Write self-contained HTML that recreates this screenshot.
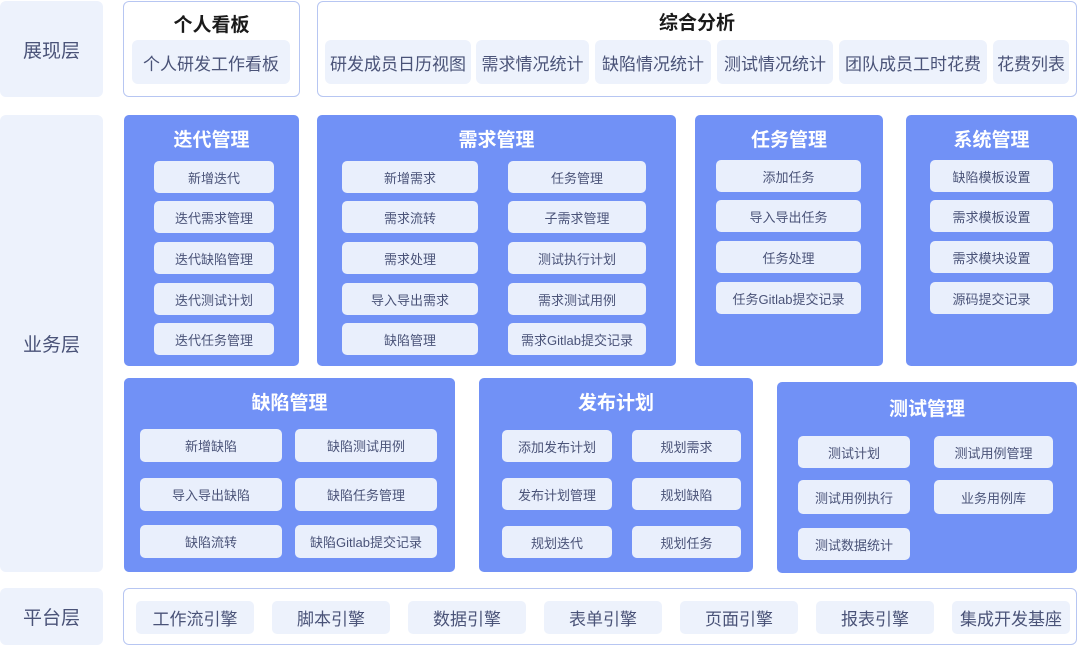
<!DOCTYPE html><html><head><meta charset="utf-8"><style>
body{margin:0;width:1080px;height:647px;background:#fff;position:relative;overflow:hidden;font-family:"Liberation Sans","Noto Sans CJK SC",sans-serif}
div{position:absolute;box-sizing:border-box}
.lab{left:0;width:103px;background:#edf2fc;border-radius:6px;color:#4a5378;font-size:19px;display:flex;align-items:center;justify-content:center}
.ob{border:1.5px solid #b7c6f2;border-radius:6px;background:#fff}
.tt{font-weight:bold;font-size:19px;color:#1a1a1a;text-align:center;left:0;right:0}
.ti{background:#edf2fc;border-radius:6px;color:#4a5378;font-size:17px;display:flex;align-items:center;justify-content:center;height:44px;top:40px}
.p{background:#7191f6;border-radius:5px}
.pt{font-weight:bold;font-size:19px;color:#fff;text-align:center;left:0;right:0}
.i{background:#e9effc;border-radius:5px;color:#4a5378;font-size:13px;display:flex;align-items:center;justify-content:center;height:32px}
.pi{background:#edf2fc;border-radius:5px;color:#4a5378;font-size:17px;display:flex;align-items:center;justify-content:center;height:33px;top:601px;width:118px}
</style></head><body>
<div class="lab" style="top:1px;height:96px">展现层</div>
<div class="lab" style="top:115px;height:457px">业务层</div>
<div class="lab" style="top:588px;height:57px">平台层</div>

<div class="ob" style="left:123px;top:1px;width:177px;height:96px"><div class="tt" style="top:8px">个人看板</div></div>
<div class="ti" style="left:132px;width:158px">个人研发工作看板</div>
<div class="ob" style="left:317px;top:1px;width:760px;height:96px"><div class="tt" style="top:6px">综合分析</div></div>
<div class="ti" style="left:325px;width:146px">研发成员日历视图</div>
<div class="ti" style="left:476px;width:113px">需求情况统计</div>
<div class="ti" style="left:595px;width:116px">缺陷情况统计</div>
<div class="ti" style="left:717px;width:116px">测试情况统计</div>
<div class="ti" style="left:839px;width:148px">团队成员工时花费</div>
<div class="ti" style="left:993px;width:76px">花费列表</div>

<div class="p" style="left:124px;top:115px;width:175px;height:251px"><div class="pt" style="top:10px">迭代管理</div></div>
<div class="i" style="left:154px;top:161px;width:120px">新增迭代</div>
<div class="i" style="left:154px;top:201px;width:120px">迭代需求管理</div>
<div class="i" style="left:154px;top:242px;width:120px">迭代缺陷管理</div>
<div class="i" style="left:154px;top:283px;width:120px">迭代测试计划</div>
<div class="i" style="left:154px;top:323px;width:120px">迭代任务管理</div>

<div class="p" style="left:317px;top:115px;width:359px;height:251px"><div class="pt" style="top:10px">需求管理</div></div>
<div class="i" style="left:342px;top:161px;width:136px">新增需求</div>
<div class="i" style="left:342px;top:201px;width:136px">需求流转</div>
<div class="i" style="left:342px;top:242px;width:136px">需求处理</div>
<div class="i" style="left:342px;top:283px;width:136px">导入导出需求</div>
<div class="i" style="left:342px;top:323px;width:136px">缺陷管理</div>
<div class="i" style="left:508px;top:161px;width:138px">任务管理</div>
<div class="i" style="left:508px;top:201px;width:138px">子需求管理</div>
<div class="i" style="left:508px;top:242px;width:138px">测试执行计划</div>
<div class="i" style="left:508px;top:283px;width:138px">需求测试用例</div>
<div class="i" style="left:508px;top:323px;width:138px">需求Gitlab提交记录</div>

<div class="p" style="left:695px;top:115px;width:188px;height:251px"><div class="pt" style="top:10px">任务管理</div></div>
<div class="i" style="left:716px;top:160px;width:145px">添加任务</div>
<div class="i" style="left:716px;top:200px;width:145px">导入导出任务</div>
<div class="i" style="left:716px;top:241px;width:145px">任务处理</div>
<div class="i" style="left:716px;top:282px;width:145px">任务Gitlab提交记录</div>

<div class="p" style="left:906px;top:115px;width:171px;height:251px"><div class="pt" style="top:10px">系统管理</div></div>
<div class="i" style="left:930px;top:160px;width:123px">缺陷模板设置</div>
<div class="i" style="left:930px;top:200px;width:123px">需求模板设置</div>
<div class="i" style="left:930px;top:241px;width:123px">需求模块设置</div>
<div class="i" style="left:930px;top:282px;width:123px">源码提交记录</div>

<div class="p" style="left:124px;top:378px;width:331px;height:194px"><div class="pt" style="top:10px">缺陷管理</div></div>
<div class="i" style="left:140px;top:429px;width:142px;height:33px">新增缺陷</div>
<div class="i" style="left:140px;top:478px;width:142px;height:33px">导入导出缺陷</div>
<div class="i" style="left:140px;top:525px;width:142px;height:33px">缺陷流转</div>
<div class="i" style="left:295px;top:429px;width:142px;height:33px">缺陷测试用例</div>
<div class="i" style="left:295px;top:478px;width:142px;height:33px">缺陷任务管理</div>
<div class="i" style="left:295px;top:525px;width:142px;height:33px">缺陷Gitlab提交记录</div>

<div class="p" style="left:479px;top:378px;width:274px;height:194px"><div class="pt" style="top:10px">发布计划</div></div>
<div class="i" style="left:502px;top:430px;width:110px">添加发布计划</div>
<div class="i" style="left:502px;top:478px;width:110px">发布计划管理</div>
<div class="i" style="left:502px;top:526px;width:110px">规划迭代</div>
<div class="i" style="left:632px;top:430px;width:109px">规划需求</div>
<div class="i" style="left:632px;top:478px;width:109px">规划缺陷</div>
<div class="i" style="left:632px;top:526px;width:109px">规划任务</div>

<div class="p" style="left:777px;top:382px;width:300px;height:191px"><div class="pt" style="top:12px">测试管理</div></div>
<div class="i" style="left:798px;top:436px;width:112px">测试计划</div>
<div class="i" style="left:798px;top:480px;width:112px;height:34px">测试用例执行</div>
<div class="i" style="left:798px;top:528px;width:112px">测试数据统计</div>
<div class="i" style="left:934px;top:436px;width:119px">测试用例管理</div>
<div class="i" style="left:934px;top:480px;width:119px;height:34px">业务用例库</div>

<div class="ob" style="left:123px;top:588px;width:954px;height:57px"></div>
<div class="pi" style="left:136px">工作流引擎</div>
<div class="pi" style="left:272px">脚本引擎</div>
<div class="pi" style="left:408px">数据引擎</div>
<div class="pi" style="left:544px">表单引擎</div>
<div class="pi" style="left:680px">页面引擎</div>
<div class="pi" style="left:816px">报表引擎</div>
<div class="pi" style="left:952px">集成开发基座</div>
</body></html>
